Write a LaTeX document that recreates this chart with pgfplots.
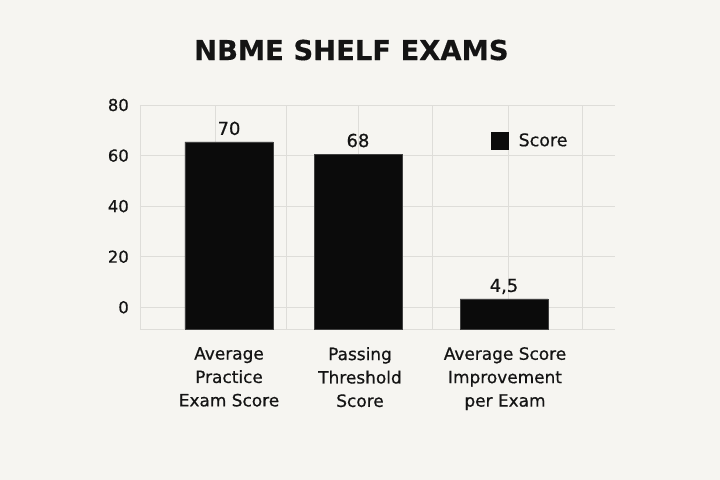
\documentclass[border=0pt]{standalone}
\usepackage{pgfplots}
\pgfplotsset{compat=1.18}
\usetikzlibrary{backgrounds}
\usepackage{fontspec}
\setmainfont{DejaVu Sans}[FakeBold=0.6, BoldFeatures={FakeBold=0.4}]
\definecolor{bg}{HTML}{F6F5F1}
\definecolor{gridc}{HTML}{DEDDD9}
\definecolor{barc}{HTML}{0B0B0B}
\definecolor{txt}{HTML}{141414}
\begin{document}
\begin{tikzpicture}
\begin{axis}[
  scale only axis, width=475bp, height=224bp,
  xmin=140, xmax=615, ymin=-8.6, ymax=80,
  y coord trafo/.code={\pgfmathparse{#1+8.6}},
  y coord inv trafo/.code={\pgfmathparse{#1-8.6}},
  axis line style={draw=none},
  major tick length=0pt,
  xtick={229,360,505},
  xticklabels={{Average\\Practice\\Exam Score},{Passing\\Threshold\\Score},{Average Score\\Improvement\\per Exam}},
  xticklabel style={align=center, font=\fontsize{17}{23.5}\selectfont, text=txt, anchor=north, inner sep=0pt, yshift=-18bp},
  extra x ticks={140,215,286,358,432,508,582},
  extra x tick labels={},
  extra x tick style={grid=major, major grid style={draw=gridc, line width=0.8bp}},
  ytick={0,20,40,60,80},
  yticklabels={0,20,40,60,80},
  yticklabel style={font=\fontsize{16.5}{19}\selectfont, text=txt, anchor=east, inner sep=0pt, xshift=-11bp},
  ymajorgrids, major grid style={draw=gridc, line width=0.8bp},
  extra y ticks={-8.6}, extra y tick labels={},
  extra y tick style={grid=major, major grid style={draw=gridc, line width=1bp}},
  /pgf/number format/assume math mode=true,
  title={NBME SHELF EXAMS},
  title style={font=\bfseries\fontsize{27.5}{34}\selectfont, text=txt, at={(0.445,1)}, anchor=base, inner sep=0pt, yshift=39bp},
  legend style={at={(0.739,0.8415)}, anchor=west, draw=none, fill=none, inner sep=0pt, outer sep=0pt,
    font=\fontsize{17.5}{20}\selectfont, text=txt, nodes={inner sep=0pt}, /tikz/every odd column/.style={column sep=10bp}},
  ybar, bar width=88,
  nodes near coords,
  point meta=explicit symbolic,
  nodes near coords style={font=\fontsize{18}{20}\selectfont, text=txt, anchor=base, inner sep=0pt, yshift=7bp},
]
\addplot[fill=barc, draw=black!75, line width=0.6bp,
  legend image code/.code={\fill[barc] (0bp,-8.5bp) rectangle (17bp,8.5bp);}]
  table[x=x, y=y, meta=label] {
x y label
229 65.4 70
358 60.6 68
504 3.3 4,5
};
\addlegendentry{Score}
\coordinate (sw) at (rel axis cs:0,0);
\coordinate (ne) at (rel axis cs:1,1);
\end{axis}
\begin{scope}[on background layer]
\fill[bg] ([shift={(-140bp,-151bp)}]sw) rectangle ([shift={(105bp,105bp)}]ne);
\end{scope}
\end{tikzpicture}
\end{document}
